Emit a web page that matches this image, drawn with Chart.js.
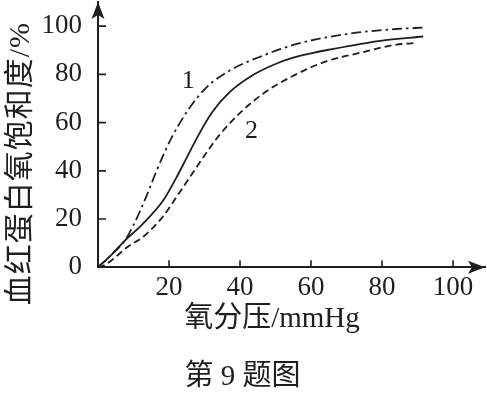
<!DOCTYPE html>
<html><head><meta charset="utf-8">
<script src="https://cdn.jsdelivr.net/npm/chart.js@4/dist/chart.umd.min.js"></script>
<style>html,body{margin:0;padding:0;background:#fff}#wrap{width:487px;height:396px}</style>
</head><body><div id="wrap"><canvas id="c" width="487" height="396"></canvas></div>
<script>
// Curve 1 (dash-dot)
const curve1X = [0, 4, 7.5, 10, 13.5, 16.5, 19, 21, 25.5, 30.5, 37, 46.5, 56, 70, 84, 92];
const curve1Y = [0, 5.5, 11, 17.5, 29, 40, 48.5, 54.5, 65.5, 74.5, 81.5, 87.8, 92.6, 96.7, 98.8, 99.4];
// Middle curve (solid)
const curveMX = [0, 4, 7.5, 12.5, 18.5, 22, 25, 28, 32, 37, 44, 50, 55, 60, 65, 79.5, 91.6];
const curveMY = [0, 5.5, 11, 17.8, 28, 37, 45.5, 54, 64, 72.5, 80, 84.3, 86.9, 88.7, 90.2, 93.9, 95.7];
// Curve 2 (dashed)
const curve2X = [0, 2, 8.4, 13, 18, 22.5, 25, 28, 31, 34.3, 40, 46.5, 55.5, 64.5, 74, 83.5, 89.5];
const curve2Y = [0, 1, 8.5, 13, 20.5, 30, 35.5, 42, 48.5, 55, 64, 72, 79.8, 85.5, 89, 92.2, 93];

const xTicks = [20, 40, 60, 80, 100];
const yTicks = [0, 20, 40, 60, 80, 100];
const xTitle = '氧分压/mmHg';
const yTitle = '血红蛋白氧饱和度/%';
const caption = '第 9 题图';
const curveLabels = ['1', '2'];

const INK = '#1e1e1e';
const FONT = "'Liberation Serif', 'Noto Sans CJK SC', serif";

function pts(xs, ys) { return xs.map((x, i) => ({ x: x, y: ys[i] })); }

const decor = {
  id: 'decor',
  afterDraw(chart) {
    const ctx = chart.ctx;
    const xs = chart.scales.x, ys = chart.scales.y;
    const left = xs.left, bottom = ys.bottom, right = xs.right, top = ys.top;
    ctx.save();
    ctx.strokeStyle = INK; ctx.fillStyle = INK; ctx.lineWidth = 1.6;
    // tick marks (inward)
    ctx.beginPath();
    xTicks.forEach(v => { const p = xs.getPixelForValue(v); ctx.moveTo(p, bottom); ctx.lineTo(p, bottom - 7); });
    yTicks.forEach(v => { if (v === 0) return; const p = ys.getPixelForValue(v); ctx.moveTo(left, p); ctx.lineTo(left + 8, p); });
    ctx.stroke();
    // arrows
    ctx.beginPath();
    ctx.moveTo(right, bottom); ctx.lineTo(right - 17, bottom - 6.5); ctx.lineTo(right - 13, bottom); ctx.lineTo(right - 17, bottom + 6.5); ctx.closePath();
    ctx.fill();
    ctx.beginPath();
    ctx.moveTo(left, top); ctx.lineTo(left - 6.5, top + 17); ctx.lineTo(left, top + 13); ctx.lineTo(left + 6.5, top + 17); ctx.closePath();
    ctx.fill();
    // curve labels
    ctx.font = '26px ' + FONT;
    ctx.textAlign = 'center'; ctx.textBaseline = 'middle';
    ctx.fillText(curveLabels[0], xs.getPixelForValue(25.4), ys.getPixelForValue(77));
    ctx.fillText(curveLabels[1], xs.getPixelForValue(43.2), ys.getPixelForValue(56.5));
    // axis titles
    ctx.font = '29px ' + FONT;
    ctx.fillText(xTitle, xs.getPixelForValue(49), bottom + 52);
    ctx.save();
    ctx.translate(21, (top + bottom) / 2 + 29);
    ctx.rotate(-Math.PI / 2);
    ctx.font = '30px ' + FONT;
    try { ctx.letterSpacing = '1px'; } catch (e) {}
    ctx.fillText(yTitle, 0, 0);
    ctx.restore();
    ctx.restore();
  }
};

new Chart(document.getElementById('c'), {
  type: 'line',
  data: {
    datasets: [
      { label: '1', data: pts(curve1X, curve1Y), borderColor: INK, borderWidth: 1.8, borderDash: [10, 4, 2.5, 4], pointRadius: 0, cubicInterpolationMode: 'monotone', fill: false },
      { label: 'm', data: pts(curveMX, curveMY), borderColor: INK, borderWidth: 1.8, pointRadius: 0, cubicInterpolationMode: 'monotone', fill: false },
      { label: '2', data: pts(curve2X, curve2Y), borderColor: INK, borderWidth: 1.8, borderDash: [7, 4], pointRadius: 0, cubicInterpolationMode: 'monotone', fill: false }
    ]
  },
  options: {
    responsive: false,
    devicePixelRatio: 1,
    animation: false,
    layout: { padding: { left: 0, right: 2, top: 2, bottom: 0 } },
    plugins: {
      legend: { display: false },
      tooltip: { enabled: false },
      title: { display: true, position: 'bottom', text: caption, color: INK, font: { family: FONT, size: 29, weight: 'normal', lineHeight: 1.2 }, padding: { top: 0, bottom: 1 } }
    },
    scales: {
      x: {
        type: 'linear', min: 0, max: 109,
        afterBuildTicks: s => { s.ticks = xTicks.map(v => ({ value: v })); },
        afterFit: s => { s.height = 92.9; s.paddingLeft = 0; s.paddingRight = 0; },
        grid: { display: false, drawTicks: false },
        border: { display: true, color: INK, width: 2 },
        ticks: { color: INK, font: { family: FONT, size: 27 }, padding: 4, maxRotation: 0, autoSkip: false }
      },
      y: {
        type: 'linear', min: 0, max: 110,
        afterBuildTicks: s => { s.ticks = yTicks.map(v => ({ value: v })); },
        afterFit: s => { s.width = 98; s.paddingTop = 0; s.paddingBottom = 0; },
        grid: { display: false, drawTicks: false },
        border: { display: true, color: INK, width: 2 },
        ticks: { color: INK, font: { family: FONT, size: 27 }, padding: 16, autoSkip: false }
      }
    }
  },
  plugins: [decor]
});
</script>
</body></html>
